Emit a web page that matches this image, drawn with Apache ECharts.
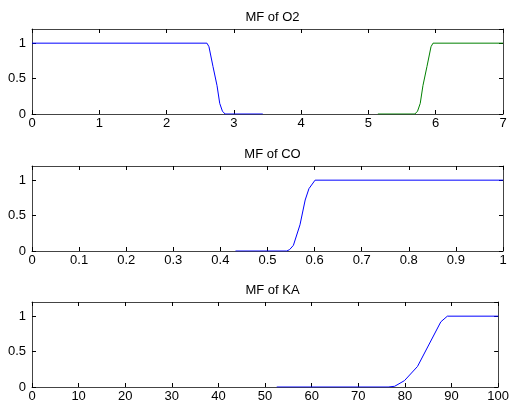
<!DOCTYPE html>
<html><head><meta charset="utf-8">
<script src="https://cdn.jsdelivr.net/npm/echarts@6/dist/echarts.min.js"></script>
<style>html,body{margin:0;padding:0;background:#fff}#c{width:512px;height:409px}</style>
</head><body><div id="c"></div>
<script>
const titles = ["MF of O2", "MF of CO", "MF of KA"];
const xMax = [7, 1, 100];
const xInterval = [1, 0.1, 10];
const o2Low = [[0,1],[2.6,1],[2.63,0.95],[2.69,0.67],[2.75,0.4],[2.79,0.15],[2.83,0.04],[2.87,0],[3.43,0]];
const o2High = [[5.14,0],[5.69,0],[5.73,0.04],[5.77,0.15],[5.81,0.4],[5.87,0.67],[5.93,0.95],[5.96,1],[7,1]];
const coHigh = [[0.432,0],[0.541,0],[0.547,0.02],[0.555,0.08],[0.569,0.37],[0.58,0.72],[0.588,0.88],[0.601,1],[1,1]];
const kaHigh = [[52.5,0],[76.4,0],[77.8,0.01],[79.9,0.09],[82.7,0.29],[87.7,0.92],[89.1,1],[100,1]];
const yTicks = [0, 0.5, 1];

const chart = echarts.init(document.getElementById('c'));
const tops = [29, 166, 302];
const H = 85, L = 32, W = 471;
const font = {fontFamily: 'Liberation Sans, Arial, sans-serif', fontSize: 13, color: '#000'};
const grids = [], xAxes = [], yAxes = [], title = [];
for (let i = 0; i < 3; i++) {
  grids.push({left: L, top: tops[i], width: W, height: H, containLabel: false});
  title.push({text: titles[i], left: L + W / 2, top: tops[i] - 23, textAlign: 'center',
    textStyle: {fontFamily: font.fontFamily, fontSize: 13, fontWeight: 'normal', color: '#000'}});
  const axLine = {show: true, onZero: false, lineStyle: {color: '#444', width: 1}};
  const tick = {show: true, inside: true, length: 4, lineStyle: {color: '#000'}};
  xAxes.push({gridIndex: i, type: 'value', min: 0, max: xMax[i], interval: xInterval[i], position: 'bottom',
    axisLine: axLine, axisTick: tick, splitLine: {show: false},
    axisLabel: Object.assign({margin: 3, formatter: v => String(+v.toFixed(2))}, font)});
  xAxes.push({gridIndex: i, type: 'value', min: 0, max: xMax[i], interval: xInterval[i], position: 'top',
    axisLine: axLine, axisTick: tick, splitLine: {show: false}, axisLabel: {show: false}});
  yAxes.push({gridIndex: i, type: 'value', min: 0, max: 1.2, interval: 0.5, position: 'left',
    axisLine: axLine, axisTick: tick, splitLine: {show: false},
    axisLabel: Object.assign({margin: 6, showMaxLabel: false, formatter: v => yTicks.includes(v) ? String(v) : ''}, font)});
  yAxes.push({gridIndex: i, type: 'value', min: 0, max: 1.2, interval: 0.5, position: 'right',
    axisLine: axLine, axisTick: tick, splitLine: {show: false}, axisLabel: {show: false}});
}
function ser(data, gi, color) {
  return {type: 'line', xAxisIndex: gi * 2, yAxisIndex: gi * 2, data: data, showSymbol: false,
    symbol: 'none', lineStyle: {color: color, width: 1}, animation: false, z: 1};
}
chart.setOption({
  animation: false,
  title: title,
  grid: grids,
  xAxis: xAxes,
  yAxis: yAxes,
  series: [ser(o2Low, 0, '#0000ff'), ser(o2High, 0, '#008000'), ser(coHigh, 1, '#0000ff'), ser(kaHigh, 2, '#0000ff')]
});
</script></body></html>
